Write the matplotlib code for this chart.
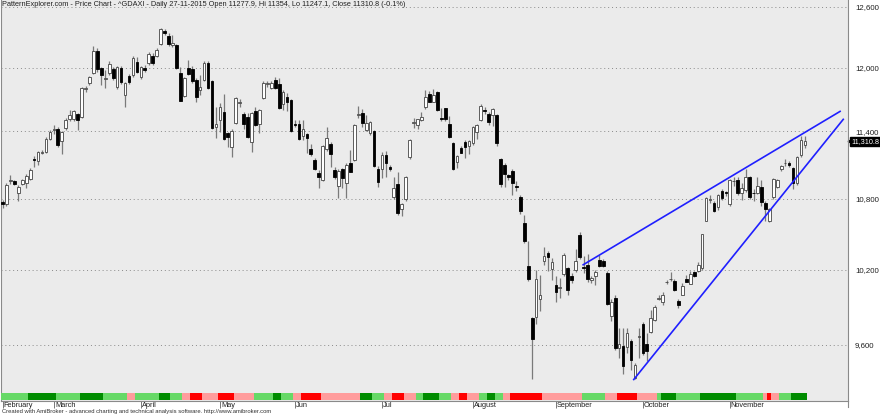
import matplotlib
matplotlib.use('Agg')
import matplotlib.pyplot as plt
import matplotlib.transforms as mtransforms
from matplotlib.lines import Line2D
from matplotlib.ticker import FixedLocator, FixedFormatter, NullLocator, NullFormatter

plt.rcParams['font.family'] = ['Liberation Sans', 'DejaVu Sans']

# ^GDAXI daily, 11-02-2015 .. 27-11-2015 (one row per month)
opens = [
    10768, 10750, 10955, 10950, 10850, 10930, 10935, 10975, 11150, 11130, 11205, 11210, 11330,
    11410, 11420, 11316, 11430, 11511, 11514, 11558, 11530, 11800, 11850, 11950, 12165, 11995, 11890, 11945, 11985, 11817, 11997, 11740, 11919, 11930, 12058,
    11913, 12000, 12047, 12113, 12113, 12233, 12358, 12313, 12222, 12222, 11946, 11733, 11995, 11988, 11881, 11786, 11881, 12046, 11874, 11443,
    11505, 11576, 11382, 11262, 11480, 11665, 11558, 11536, 11300, 11588, 11466, 11710, 11845, 11808, 11881, 11840, 11652, 11724, 11692,
    11470, 11466, 11360, 11372, 11240, 11141, 11028, 10964, 11240, 11286, 11052, 10911, 11058, 10940, 11117, 11141, 11550, 11567, 11413, 11388, 11405, 11058,
    11058, 11186, 11080, 10818, 10928, 10709, 10797, 11165, 11480, 11459, 11505, 11624, 11751, 11677, 11763, 11520, 11613, 11468, 11290, 11126, 11246, 11306, 11268,
    11290, 11397, 11505, 11600, 11561, 11552, 11550, 11147, 11097, 11003, 11045, 10910, 10818, 10589, 10230, 9810, 9818, 9963, 10275, 10339, 10205,
    10077, 10050, 10166, 10213, 10150, 10199, 10490, 10220, 10240, 10118, 10150, 10281, 10267, 10174, 9830, 9970, 9578, 9596, 9586, 9629, 9350, 9665,
    9760, 9610, 9700, 9798, 9965, 9941, 10095, 10120, 10104, 9949, 9997, 10124, 10085, 10177, 10185, 10213, 10611, 10790, 10760, 10728, 10870, 10855,
    10754, 10955, 10964, 10852, 10876, 10987, 10850, 10853, 10899, 10766, 10611, 10812, 10905, 11058, 11115, 11111, 11066, 10940, 11186, 11277.9,
]
highs = [
    10790, 10935, 11010, 10965, 10915, 10975, 11017, 11065, 11180, 11225, 11230, 11345, 11410,
    11460, 11440, 11400, 11520, 11598, 11600, 11570, 11810, 11826, 11915, 12210, 12190, 12010, 11977, 12060, 12010, 12020, 12020, 11860, 11940, 12110, 12100,
    12020, 12030, 12150, 12140, 12190, 12390, 12375, 12340, 12323, 12235, 12003, 11910, 12074, 12020, 11900, 11929, 12060, 12060, 11880, 11630,
    11660, 11748, 11395, 11420, 11720, 11703, 11577, 11570, 11580, 11629, 11610, 11870, 11870, 11870, 11913, 11903, 11786, 11755, 11700,
    11505, 11505, 11505, 11385, 11282, 11160, 11050, 11280, 11440, 11300, 11080, 11060, 11070, 11110, 11231, 11470, 11636, 11605, 11550, 11500, 11410, 11087,
    11216, 11225, 11100, 10990, 11037, 10760, 11000, 11330, 11520, 11515, 11580, 11786, 11780, 11793, 11775, 11613, 11620, 11542, 11300, 11185, 11265, 11320, 11320,
    11450, 11470, 11655, 11625, 11575, 11620, 11560, 11160, 11117, 11020, 11060, 10950, 10830, 10660, 10434, 9815, 10199, 10158, 10390, 10350, 10297,
    10146, 10130, 10340, 10225, 10170, 10370, 10510, 10309, 10330, 10150, 10200, 10320, 10290, 10190, 9960, 9990, 9733, 9730, 9733, 9650, 9460, 9733,
    9780, 9695, 9877, 9910, 9990, 10020, 10115, 10177, 10125, 9960, 10090, 10160, 10190, 10190, 10260, 10500, 10810, 10830, 10775, 10840, 10880, 10870,
    10970, 10990, 10990, 10935, 11058, 11000, 10880, 10990, 10964, 10780, 10720, 10980, 10975, 11100, 11150, 11130, 11080, 11180, 11360, 11354,
]
lows = [
    10720, 10740, 10930, 10920, 10775, 10915, 10893, 10960, 11080, 11100, 11190, 11200, 11320,
    11380, 11260, 11197, 11410, 11500, 11500, 11413, 11520, 11770, 11830, 11940, 11960, 11833, 11802, 11930, 11880, 11800, 11840, 11629, 11840, 11910, 11950,
    11890, 11960, 12030, 12030, 12100, 12220, 12320, 12215, 12200, 11990, 11680, 11720, 11925, 11850, 11677, 11740, 11870, 11800, 11420, 11337,
    11397, 11320, 11262, 11170, 11470, 11629, 11422, 11340, 11216, 11450, 11382, 11700, 11810, 11795, 11800, 11610, 11598, 11588, 11395,
    11440, 11320, 11322, 11200, 11180, 11050, 10893, 10950, 11220, 11080, 10975, 10803, 10890, 10803, 11030, 11130, 11523, 11443, 11400, 11367, 11080, 10905,
    10978, 10993, 11040, 10800, 10660, 10651, 10780, 11150, 11429, 11420, 11500, 11610, 11670, 11670, 11590, 11500, 11500, 11340, 11050, 11073, 11200, 11156, 11190,
    11280, 11330, 11495, 11560, 11460, 11445, 11270, 10900, 10900, 10960, 10832, 10870, 10670, 10420, 10110, 9338, 9760, 9867, 10240, 10185, 10118,
    9941, 9970, 10150, 9997, 10090, 10180, 10290, 10169, 10100, 10090, 10077, 10220, 10220, 9910, 9785, 9560, 9501, 9375, 9542, 9412, 9340, 9500,
    9520, 9475, 9695, 9790, 9950, 9910, 10080, 10104, 10025, 9890, 9990, 10095, 10080, 10140, 10180, 10200, 10603, 10760, 10680, 10700, 10790, 10820,
    10740, 10910, 10830, 10789, 10860, 10800, 10780, 10840, 10737, 10611, 10600, 10800, 10890, 11040, 11090, 11080, 10882, 10920, 11170, 11247.1,
]
closes = [
    10752, 10920, 10963, 10924, 10905, 10962, 11000, 11050, 11138, 11210, 11212, 11330, 11397,
    11420, 11276, 11390, 11504, 11550, 11588, 11505, 11802, 11805, 11907, 12165, 11985, 11930, 11897, 12039, 11897, 12003, 11860, 11850, 11860, 12090, 11960,
    12003, 11980, 12133, 12041, 12172, 12380, 12337, 12230, 12240, 11995, 11683, 11897, 11936, 11867, 11724, 11811, 12046, 11808, 11434, 11466,
    11629, 11331, 11350, 11405, 11710, 11672, 11466, 11350, 11567, 11459, 11598, 11855, 11852, 11855, 11808, 11620, 11770, 11670, 11405,
    11455, 11331, 11422, 11341, 11195, 11060, 10993, 11270, 11337, 11195, 10988, 11045, 10979, 11097, 11037, 11459, 11558, 11475, 11475, 11490, 11087, 10949,
    11186, 11111, 11058, 10890, 10675, 10752, 10993, 11322, 11484, 11510, 11536, 11720, 11677, 11741, 11598, 11514, 11510, 11346, 11058, 11177, 11206, 11262, 11313,
    11443, 11459, 11636, 11590, 11490, 11605, 11290, 10928, 11017, 10985, 10940, 10903, 10689, 10434, 10124, 9648, 10126, 9997, 10315, 10306, 10259,
    10015, 10056, 10323, 10037, 10112, 10267, 10306, 10213, 10124, 10130, 10180, 10232, 10232, 9925, 9941, 9578, 9610, 9437, 9695, 9483, 9450, 9672,
    9542, 9552, 9810, 9900, 9970, 9997, 10099, 10124, 10031, 9917, 10064, 10099, 10166, 10144, 10240, 10498, 10803, 10795, 10689, 10833, 10803, 10848,
    10964, 10958, 10845, 10890, 10987, 10818, 10845, 10911, 10774, 10709, 10709, 10970, 10964, 11088, 11117, 11097, 10935, 11170, 11322, 11310.8,
]

months = ['February', 'March', 'April', 'May', 'Jun', 'Jul', 'August', 'September', 'October', 'November']
month_starts = [0, 13, 35, 55, 74, 96, 119, 140, 162, 184]
price_ticks = [9600, 10200, 10800, 11400, 12000, 12600]
last_close = 11310.8

# colour strip under the bars: (code, number of bars)
strip_runs = [
    ('g', 7), ('G', 7), ('g', 6), ('G', 6), ('g', 6), ('r', 2), ('g', 6), ('G', 3), ('g', 3), ('r', 2),
    ('R', 3), ('r', 4), ('R', 4), ('r', 5), ('g', 5), ('G', 2), ('g', 3), ('r', 2), ('R', 5), ('r', 10),
    ('G', 3), ('g', 3), ('r', 2), ('R', 3), ('r', 3), ('g', 2), ('G', 4), ('g', 3), ('r', 2), ('R', 2),
    ('r', 3), ('g', 2), ('G', 2), ('g', 2), ('r', 2), ('R', 8), ('r', 10), ('g', 6), ('r', 3), ('R', 5),
    ('r', 5), ('g', 1), ('G', 4), ('g', 6), ('G', 9), ('g', 7), ('r', 1), ('R', 1), ('r', 2), ('g', 3),
    ('G', 4),
]
strip_palette = {'G': '#008c00', 'g': '#66d966', 'R': '#ff0000', 'r': '#ff9c9c'}

# wedge trendlines (bar index, price)
upper_x = [146.9, 211.9]
upper_y = [10240, 11585]
lower_x = [159.7, 212.7]
lower_y = [9337, 11511]

title = ('PatternExplorer.com - Price Chart - ^GDAXI - Daily 27-11-2015 Open 11277.9, '
         'Hi 11354, Lo 11247.1, Close 11310.8 (-0.1%)')
footer = ('Created with AmiBroker - advanced charting and technical analysis software. '
          'http://www.amibroker.com')


def main():
    W, H = 880, 415
    fig = plt.figure(figsize=(W / 100, H / 100), dpi=100)
    ax = fig.add_axes([1 / W, 14 / H, 847 / W, 401 / H])
    ax.set_facecolor('#ebebeb')
    ax.set_yscale('log')

    xs = list(range(len(closes)))
    up = [c >= o for o, c in zip(opens, closes)]
    wick_lo = [min(l, o, c) for o, l, c in zip(opens, lows, closes)]
    wick_hi = [max(h, o, c) for o, h, c in zip(opens, highs, closes)]
    ax.vlines(xs, wick_lo, wick_hi, color='#7a7a7a', lw=0.9, zorder=2)
    ax.bar(xs, [max(abs(c - o), 2) for o, c in zip(opens, closes)],
           bottom=[min(o, c) for o, c in zip(opens, closes)], width=0.68,
           color=['white' if u else 'black' for u in up],
           edgecolor=['#454545' if u else 'black' for u in up], lw=0.6, zorder=3)

    ax.plot(upper_x, upper_y, color='#1f1fff', lw=1.2, zorder=4)
    ax.plot(lower_x, lower_y, color='#1f1fff', lw=1.2, zorder=4)

    ax.set_xlim(-0.38, 213.9)
    ax.set_ylim(9177, 12671)

    # y axis on the right
    ax.yaxis.tick_right()
    ax.yaxis.set_major_locator(FixedLocator(price_ticks))
    ax.yaxis.set_major_formatter(FixedFormatter([f'{v:,}' for v in price_ticks]))
    ax.yaxis.set_minor_locator(NullLocator())
    ax.yaxis.set_minor_formatter(NullFormatter())
    ax.tick_params(axis='y', length=0, pad=5, labelsize=5.7, labelcolor='#202020')
    ax.grid(axis='y', which='major', ls=(0, (1, 3)), color='#8a8a8a', lw=0.7)
    ax.set_axisbelow(True)

    # month ticks and labels
    ax.set_xticks(month_starts)
    ax.tick_params(axis='x', length=5, width=0.6, color='#606060', labelbottom=False)
    trans = mtransforms.blended_transform_factory(ax.transData, ax.transAxes)
    for m, pos in zip(months, month_starts):
        ax.text(pos + 0.25, -0.002, m, transform=trans, ha='left', va='top',
                fontsize=5.3, color='#202020')

    for side in ['left', 'bottom', 'right']:
        ax.spines[side].set_color('#8a8a8a')
        ax.spines[side].set_linewidth(0.8)
    ax.spines['top'].set_visible(False)
    fig.add_artist(Line2D([848 / W, 848 / W], [8 / H, 14 / H], color='#8a8a8a', lw=0.8))

    # last price marker
    ytrans = mtransforms.blended_transform_factory(ax.transAxes, ax.transData)
    ax.text(1 + 3 / 847, last_close, f'{last_close:,.1f}', transform=ytrans, ha='left',
            va='center', fontsize=5.2, color='white', clip_on=False,
            bbox=dict(boxstyle='square,pad=0.12', fc='black', ec='black'))
    ax.plot([1.0 + 2 / 847], [last_close], marker='<', ms=3.5, color='black',
            transform=ytrans, clip_on=False)

    # colour strip
    sax = fig.add_axes([1 / W, 15 / H, 847 / W, 7 / H], sharex=ax)
    strip = []
    for code, n in strip_runs:
        strip += [strip_palette[code]] * n
    sax.bar(xs, [1] * len(xs), width=1.0, color=strip, lw=0)
    sax.set_ylim(0, 1)
    sax.axis('off')
    ax.set_xlim(-0.38, 213.9)

    fig.text(2 / W, 1 - 1 / H, title, ha='left', va='top', fontsize=5.3, color='#202020')
    fig.text(2 / W, 4 / H, footer, ha='left', va='center', fontsize=4.2, color='#303030')

    fig.savefig('out.png', dpi=100)


if __name__ == '__main__':
    main()
